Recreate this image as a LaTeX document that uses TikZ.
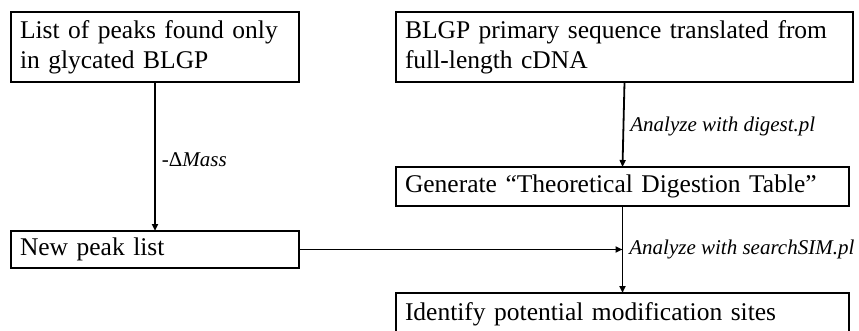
\documentclass[tikz,border=0pt]{standalone}
\usepackage{fontspec}
\setmainfont{Liberation Serif}
\usetikzlibrary{arrows.meta}
\begin{document}
\begin{tikzpicture}[x=1pt,y=-1pt,
  stepbox/.style={draw, line width=1.8pt, anchor=north west, align=left,
    inner xsep=9pt, inner ysep=0pt, outer sep=0pt,
    font=\fontsize{25.5}{30}\selectfont},
  flow/.style={line width=1.8pt, -{Triangle[length=7pt,width=6pt]}},
  note/.style={anchor=west, inner sep=0pt, xshift=6pt,
    font=\fontsize{21}{24}\selectfont\itshape}]
\useasboundingbox (0,0) rectangle (859,331);
\clip (0,0) rectangle (859,331);

% boxes on the left
\node[stepbox, text width=270pt, minimum height=70pt] (peaks) at (11,12)
  {List of peaks found only\\in glycated BLGP};
\node[stepbox, text width=270pt, minimum height=37pt] (newlist) at (11,231)
  {New peak list};

% boxes on the right
\node[stepbox, text width=439pt, minimum height=70pt] (seq) at (396,12)
  {BLGP primary sequence translated from\\full-length cDNA};
\node[stepbox, text width=435pt, minimum height=39pt] (digest) at (396,167)
  {Generate “Theoretical Digestion Table”};
\node[stepbox, text width=435pt, minimum height=42pt] (sites) at (396,293)
  {Identify potential modification sites};

% connectors
\draw[flow] (peaks.south) -- node[note, pos=0.52] {\upshape-Δ\itshape Mass} (newlist.north);
\draw[flow] (seq.south) -- node[note, pos=0.52] {Analyze with digest.pl} (digest.north);
\draw[flow] (digest.south) -- node[note, pos=0.5] {Analyze with searchSIM.pl} (sites.north);
\coordinate (join) at (digest.south |- newlist.east);
\draw[flow] (newlist.east) -- (join);
\end{tikzpicture}
\end{document}
